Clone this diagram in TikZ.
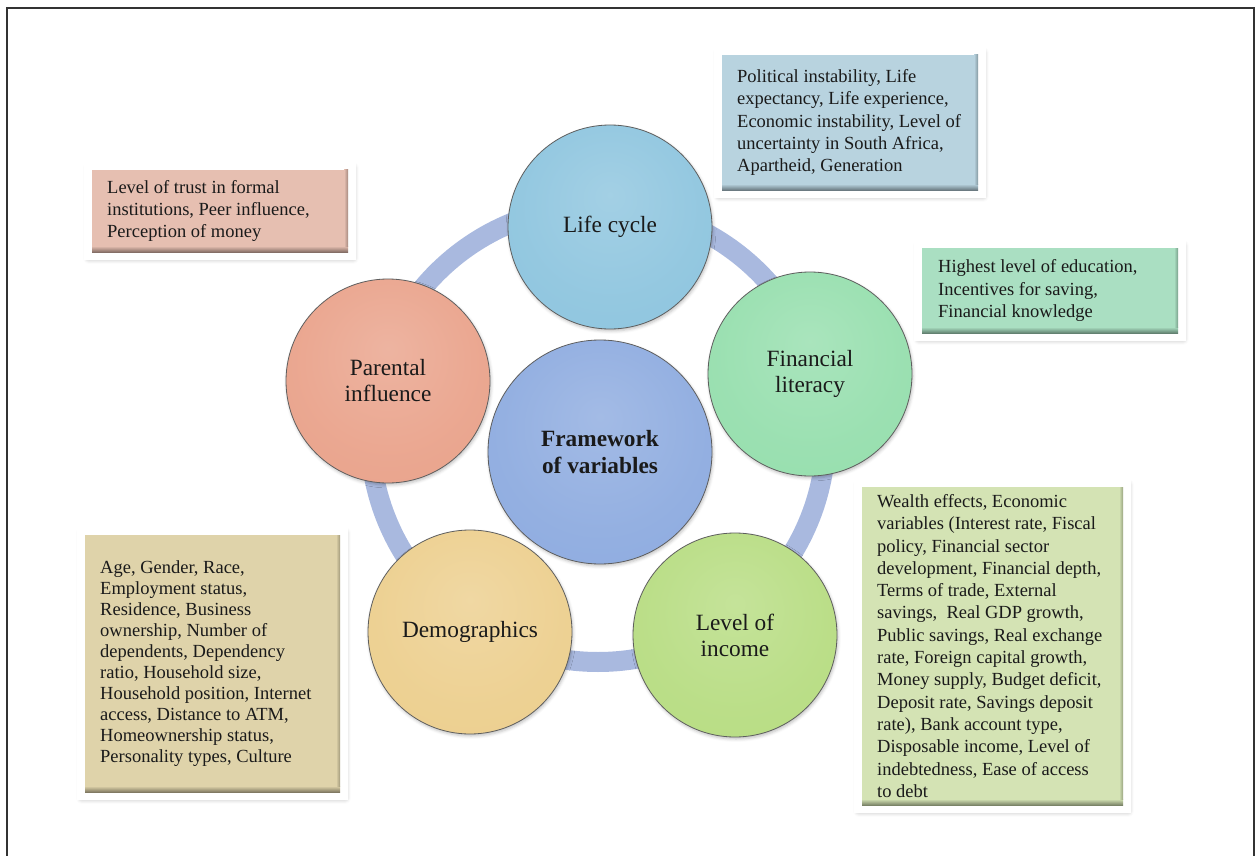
\documentclass[tikz,border=0pt]{standalone}
\usepackage{fontspec}
\setmainfont{Liberation Serif}
\usetikzlibrary{shadows.blur}

% palette
\definecolor{ringblue}{HTML}{A9B9DF}
\definecolor{lifeblue}{HTML}{8CC4DE}
\definecolor{litgreen}{HTML}{94DEAC}
\definecolor{incgreen}{HTML}{B6DC80}
\definecolor{demosand}{HTML}{ECCE8C}
\definecolor{parsalmon}{HTML}{E9A189}
\definecolor{coreblue}{HTML}{8CAADF}
\definecolor{boxblue}{HTML}{B8D3DF}
\definecolor{boxpink}{HTML}{E6BFB1}
\definecolor{boxmint}{HTML}{AADFC2}
\definecolor{boxsand}{HTML}{DFD3AA}
\definecolor{boxlime}{HTML}{D4E3B4}
\definecolor{inkdark}{HTML}{1A1A1A}
\definecolor{rimgray}{HTML}{5E5E5E}
\definecolor{framegray}{HTML}{333333}
\colorlet{discbase}{white}

% soft bevelled disc: lighter near the top, darker rim
\pgfdeclareradialshading[discbase]{discshade}{\pgfpoint{0bp}{8bp}}{%
  color(0bp)=(discbase!80!white);
  color(22bp)=(discbase!93!white);
  color(40bp)=(discbase);
  color(50bp)=(discbase!80!black)}

\tikzset{
  bubble/.style={circle, draw=rimgray, line width=0.8pt,
    /utils/exec={\colorlet{discbase}{#1}}, shading=discshade,
    minimum size=204pt, inner sep=0pt, align=center, text=inkdark,
    font=\fontsize{23.3}{26}\selectfont,
    blur shadow={shadow xshift=1pt, shadow yshift=-2pt,
      shadow blur radius=3pt, shadow opacity=25}},
  infobox/.style={draw=white, line width=8pt, fill=#1, outer sep=0pt,
    blur shadow={shadow xshift=1pt, shadow yshift=-2pt,
      shadow blur radius=6pt, shadow blur steps=8, shadow opacity=35}},
  boxtext/.style={anchor=west, align=left, inner sep=0pt, text=inkdark,
    font=\fontsize{18.5}{#1}\selectfont},
  boxtext/.default=22.3
}

% bevel strips along the bottom and right edge of a coloured box
\newcommand\boxbevel[2]{%
  \shade[top color=#2, bottom color=#2!58!black]
    ([xshift=4pt,yshift=4pt]#1.south west) rectangle ([xshift=-4pt,yshift=10pt]#1.south east);
  \shade[left color=#2, right color=#2!72!black]
    ([xshift=-8pt,yshift=10pt]#1.south east) rectangle ([xshift=-4pt,yshift=-4pt]#1.north east);
}

\begin{document}
\begin{tikzpicture}[x=1pt, y=-1pt]
\useasboundingbox (0,0) rectangle (1256,856);

% page frame (open at the bottom)
\draw[framegray, line width=2pt] (7,880) -- (7,8) -- (1254,8) -- (1254,880);

% ring behind the discs
\draw[ringblue, line width=20pt] (598,434) circle[radius=228pt];

% discs
\node[bubble=lifeblue]  (lifecycle)    at (610,227) {Life cycle};
\node[bubble=litgreen]  (literacy)     at (810,374) {Financial\\literacy};
\node[bubble=incgreen]  (income)       at (735,635) {Level of\\income};
\node[bubble=demosand]  (demographics) at (470,632) {Demographics};
\node[bubble=parsalmon] (parental)     at (388,381) {Parental\\influence};
\node[bubble=coreblue, minimum size=224pt,
      font=\fontsize{23.3}{27}\selectfont\bfseries] (core) at (600,452)
      {Framework\\of variables};

% life cycle factors
\node[infobox=boxblue, minimum width=264pt, minimum height=143pt] (lifebox) at (850,122.5) {};
\boxbevel{lifebox}{boxblue}
\node[boxtext] (lifetext) at ([xshift=19pt]lifebox.west)
  {Political instability, Life\\expectancy, Life experience,\\Economic instability, Level of\\uncertainty in South Africa,\\Apartheid, Generation};

% parental influence factors
\node[infobox=boxpink, minimum width=264pt, minimum height=90pt] (trustbox) at (220,211) {};
\boxbevel{trustbox}{boxpink}
\node[boxtext] (trusttext) at ([xshift=19pt]trustbox.west)
  {Level of trust in formal\\institutions, Peer influence,\\Perception of money};

% financial literacy factors
\node[infobox=boxmint, minimum width=264pt, minimum height=93pt] (litbox) at (1050,290.5) {};
\boxbevel{litbox}{boxmint}
\node[boxtext] (littext) at ([xshift=20pt]litbox.west)
  {Highest level of education,\\Incentives for saving,\\Financial knowledge};

% demographic factors
\node[infobox=boxsand, minimum width=263pt, minimum height=265pt] (demobox) at (212.5,663.5) {};
\boxbevel{demobox}{boxsand}
\node[boxtext=21] (demotext) at ([xshift=19pt]demobox.west)
  {Age, Gender, Race,\\Employment status,\\Residence, Business\\ownership, Number of\\dependents, Dependency\\ratio, Household size,\\Household position, Internet\\access, Distance to ATM,\\Homeownership status,\\Personality types, Culture};

% income factors
\node[infobox=boxlime, minimum width=269pt, minimum height=326pt] (incomebox) at (992.5,646) {};
\boxbevel{incomebox}{boxlime}
\node[boxtext] (incometext) at ([xshift=19pt]incomebox.west)
  {Wealth effects, Economic\\variables (Interest rate, Fiscal\\policy, Financial sector\\development, Financial depth,\\Terms of trade, External\\savings,\ \ Real GDP growth,\\Public savings, Real exchange\\rate, Foreign capital growth,\\Money supply, Budget deficit,\\Deposit rate, Savings deposit\\rate), Bank account type,\\Disposable income, Level of\\indebtedness, Ease of access\\to debt};
\end{tikzpicture}
\end{document}
